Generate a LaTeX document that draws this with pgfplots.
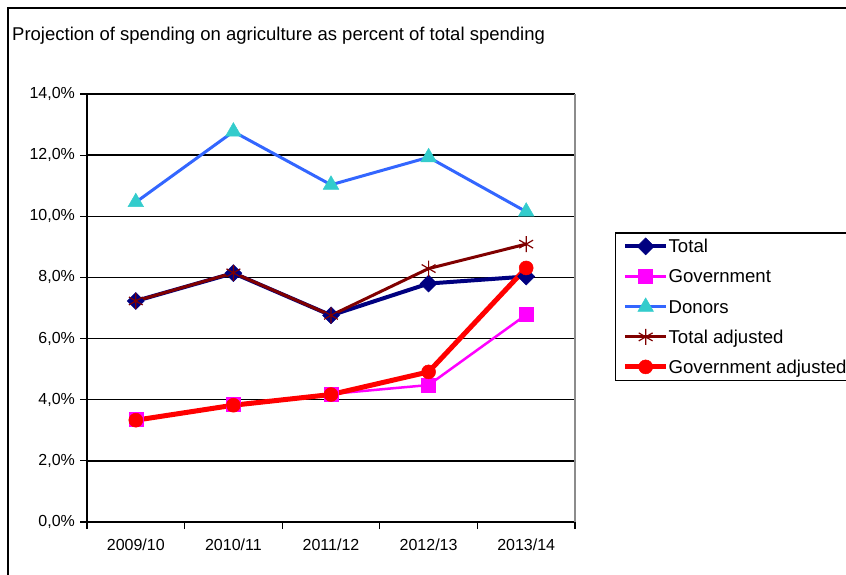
\documentclass[border=0pt]{standalone}
\usepackage{fontspec}
\setmainfont{Liberation Sans}
\usepackage{pgfplots}
\pgfplotsset{compat=1.18}

\definecolor{totalc}{RGB}{0,0,128}
\definecolor{govc}{RGB}{255,0,255}
\definecolor{donline}{RGB}{51,102,255}
\definecolor{donmark}{RGB}{51,204,204}
\definecolor{totadj}{RGB}{128,0,0}
\definecolor{govadj}{RGB}{255,0,0}
\definecolor{frameg}{RGB}{140,140,140}

\begin{document}
\begin{tikzpicture}[x=1pt,y=1pt]
% outer chart frame
\draw[line width=1.8pt, black] (8,-5) -- (8,566) -- (860,566);
\node[anchor=base west, inner sep=0pt, font=\fontsize{18.5}{22}\selectfont]
  at (12,533) {Projection of spending on agriculture as percent of total spending};

\begin{axis}[
  at={(87pt,52pt)}, anchor=south west,
  scale only axis, width=488pt, height=428pt,
  xmin=-0.5, xmax=4.5, ymin=0, ymax=14,
  xtick={0,1,2,3,4},
  xticklabels={2009/10,2010/11,2011/12,2012/13,2013/14},
  minor xtick={-0.5,0.5,1.5,2.5,3.5,4.5},
  ytick={0,2,4,6,8,10,12,14},
  yticklabels={{0,0\%},{2,0\%},{4,0\%},{6,0\%},{8,0\%},{10,0\%},{12,0\%},{14,0\%}},
  tick align=outside,
  major tick length=7pt, minor tick length=7pt,
  tick style={black, line width=1.2pt},
  major x tick style={draw=none},
  axis x line*=bottom, axis y line*=left,
  axis line style={black, line width=1.8pt, -},
  ymajorgrids, grid style={black, line width=1.3pt},
  ticklabel style={font=\fontsize{16}{19}\selectfont},
  yticklabel style={xshift=-1.5pt},
  xticklabel style={text height=11.5pt, yshift=-6pt},
  clip=false,
  legend cell align=left,
  legend style={
    at={(1.082,0.677)}, anchor=north west,
    draw=black, line width=1.3pt,
    font=\fontsize{18.6}{21}\selectfont,
    inner xsep=7pt, inner ysep=5pt,
    row sep=13pt,
    nodes={inner sep=0pt, text height=15pt, text depth=2pt},
    /tikz/every even column/.append style={column sep=6pt},
  },
  legend image code/.code={%
    \draw[mark repeat=2, mark phase=2, #1]
      plot coordinates {(0pt,0pt) (20.5pt,0pt) (41pt,0pt)};},
]
% right border of the plot area
\draw[frameg, line width=1.8pt] (rel axis cs:1,0) -- (rel axis cs:1,1);

\addplot[totalc, line width=4pt, mark=square*, mark size=6pt,
  mark options={rotate=45, line width=0.5pt, fill=totalc}]
  coordinates {(0,7.23) (1,8.14) (2,6.76) (3,7.80) (4,8.03)};
\addlegendentry{Total}

\addplot[govc, line width=2.5pt, mark=square*, mark size=7pt,
  mark options={line width=0.5pt, fill=govc}]
  coordinates {(0,3.35) (1,3.84) (2,4.19) (3,4.48) (4,6.78)};
\addlegendentry{Government}

\addplot[donline, line width=3pt, mark=triangle*, mark size=9pt,
  mark options={line width=0.5pt, draw=donmark, fill=donmark}]
  coordinates {(0,10.46) (1,12.77) (2,11.03) (3,11.93) (4,10.15)};
\addlegendentry{Donors}

\addplot[totadj, line width=3pt, mark=asterisk, mark size=8pt,
  mark options={line width=1.2pt}]
  coordinates {(0,7.23) (1,8.15) (2,6.76) (3,8.29) (4,9.09)};
\addlegendentry{Total adjusted}

\addplot[govadj, line width=5pt, mark=*, mark size=7pt,
  mark options={line width=0.5pt, fill=govadj}]
  coordinates {(0,3.33) (1,3.82) (2,4.17) (3,4.91) (4,8.31)};
\addlegendentry{Government adjusted\hspace{8pt}}
\end{axis}
\pgfresetboundingbox
\useasboundingbox (0,0) rectangle (846,574);
\end{tikzpicture}
\end{document}
